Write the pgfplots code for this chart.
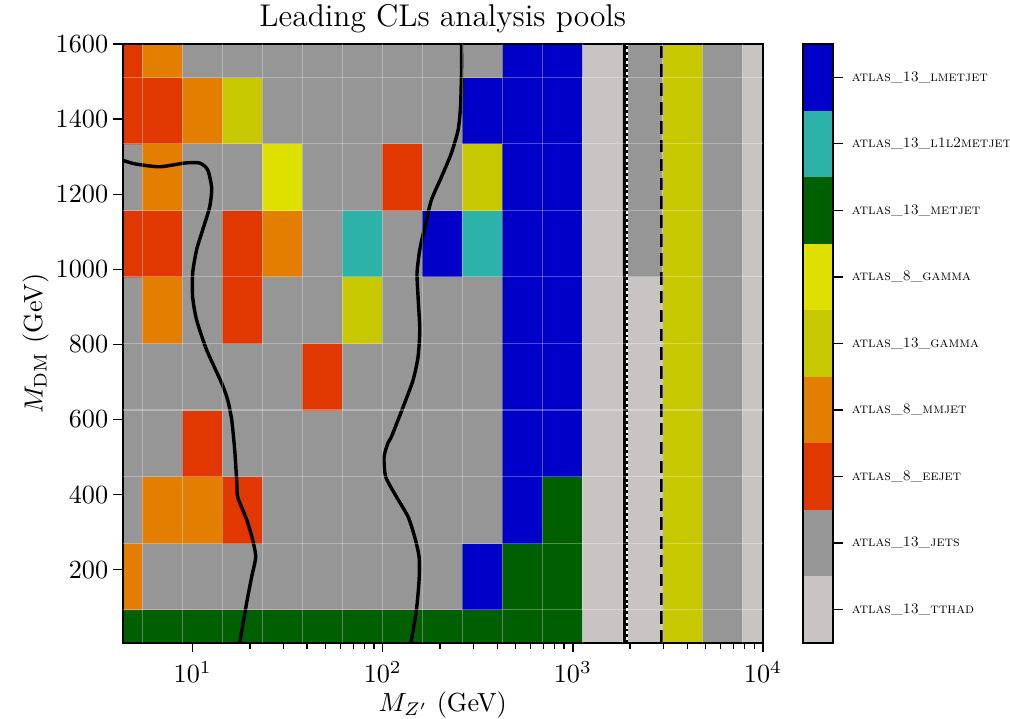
\documentclass[border=0pt]{standalone}
\usepackage{pgfplots}
\pgfplotsset{compat=1.18}
\definecolor{cTT}{RGB}{201,196,196}
\definecolor{cJE}{RGB}{150,150,150}
\definecolor{cEE}{RGB}{224,56,0}
\definecolor{cMM}{RGB}{228,126,0}
\definecolor{cGA}{RGB}{200,200,0}
\definecolor{cGE}{RGB}{224,224,0}
\definecolor{cME}{RGB}{0,96,0}
\definecolor{cLL}{RGB}{44,178,168}
\definecolor{cLM}{RGB}{0,0,200}
\begin{document}
\begin{tikzpicture}
\begin{axis}[
  name=main, at={(0,0)}, anchor=south west,
  scale only axis, width=244.4pt, height=228.6pt,
  xmode=log, xmin=4.2813, xmax=10000, ymin=5, ymax=1600,
  xtick={10,100,1000,10000},
  ytick={200,400,...,1600},
  /pgf/number format/1000 sep={},
  tick align=outside, xtick pos=left, ytick pos=left,
  major tick length=3.6pt, minor tick length=2.2pt,
  tick style={black, line width=0.5pt},
  axis line style={line width=0.7pt},
  yticklabel style={xshift=1.6pt},
  title={Leading CLs analysis pools}, title style={font=\large, yshift=-5.5pt},
  xlabel={$M_{Z'}$ (GeV)}, ylabel={$M_{\mathrm{DM}}$ (GeV)},
  xlabel style={yshift=7pt},
  ylabel style={yshift=-8pt},
  axis on top,
  extra x ticks={5.4556,8.8587,14.384,23.357,37.927,61.585,100,162.38,263.67,428.13,695.19,1128.8,1833.0,2976.4,4832.9,7847.6},
  extra x tick labels={},
  extra x tick style={grid=major, major tick length=0pt, xticklabel={}},
  extra y ticks={93.6,270.8,448,625.3,802.5,979.7,1157,1334.2,1511.4},
  extra y tick labels={},
  extra y tick style={grid=major, major tick length=0pt, yticklabel={}},
  major grid style={white, opacity=0.3, line width=0.4pt},
  colormap={pools}{rgb255=(201,196,196) rgb255=(150,150,150) rgb255=(224,56,0) rgb255=(228,126,0) rgb255=(200,200,0) rgb255=(224,224,0) rgb255=(0,96,0) rgb255=(44,178,168) rgb255=(0,0,200)},
  colormap access=direct,
  point meta min=0, point meta max=8,
]
\addplot[matrix plot*, mesh/cols=17, mesh/rows=10, point meta=explicit] table[meta=c] {
x y c
4.2813 5 6
6.9519 5 6
11.288 5 6
18.330 5 6
29.764 5 6
48.329 5 6
78.476 5 6
127.43 5 6
206.91 5 6
335.98 5 6
545.56 5 6
885.87 5 6
1438.4 5 0
2335.7 5 0
3792.7 5 4
6158.5 5 1
10000 5 0
4.2813 182.2 3
6.9519 182.2 1
11.288 182.2 1
18.330 182.2 1
29.764 182.2 1
48.329 182.2 1
78.476 182.2 1
127.43 182.2 1
206.91 182.2 1
335.98 182.2 8
545.56 182.2 6
885.87 182.2 6
1438.4 182.2 0
2335.7 182.2 0
3792.7 182.2 4
6158.5 182.2 1
10000 182.2 0
4.2813 359.4 1
6.9519 359.4 3
11.288 359.4 3
18.330 359.4 2
29.764 359.4 1
48.329 359.4 1
78.476 359.4 1
127.43 359.4 1
206.91 359.4 1
335.98 359.4 1
545.56 359.4 8
885.87 359.4 6
1438.4 359.4 0
2335.7 359.4 0
3792.7 359.4 4
6158.5 359.4 1
10000 359.4 0
4.2813 536.7 1
6.9519 536.7 1
11.288 536.7 2
18.330 536.7 1
29.764 536.7 1
48.329 536.7 1
78.476 536.7 1
127.43 536.7 1
206.91 536.7 1
335.98 536.7 1
545.56 536.7 8
885.87 536.7 8
1438.4 536.7 0
2335.7 536.7 0
3792.7 536.7 4
6158.5 536.7 1
10000 536.7 0
4.2813 713.9 1
6.9519 713.9 1
11.288 713.9 1
18.330 713.9 1
29.764 713.9 1
48.329 713.9 2
78.476 713.9 1
127.43 713.9 1
206.91 713.9 1
335.98 713.9 1
545.56 713.9 8
885.87 713.9 8
1438.4 713.9 0
2335.7 713.9 0
3792.7 713.9 4
6158.5 713.9 1
10000 713.9 0
4.2813 891.1 1
6.9519 891.1 3
11.288 891.1 1
18.330 891.1 2
29.764 891.1 1
48.329 891.1 1
78.476 891.1 4
127.43 891.1 1
206.91 891.1 1
335.98 891.1 1
545.56 891.1 8
885.87 891.1 8
1438.4 891.1 0
2335.7 891.1 0
3792.7 891.1 4
6158.5 891.1 1
10000 891.1 0
4.2813 1068.3 2
6.9519 1068.3 2
11.288 1068.3 1
18.330 1068.3 2
29.764 1068.3 3
48.329 1068.3 1
78.476 1068.3 7
127.43 1068.3 1
206.91 1068.3 8
335.98 1068.3 7
545.56 1068.3 8
885.87 1068.3 8
1438.4 1068.3 0
2335.7 1068.3 1
3792.7 1068.3 4
6158.5 1068.3 1
10000 1068.3 0
4.2813 1245.6 1
6.9519 1245.6 3
11.288 1245.6 1
18.330 1245.6 1
29.764 1245.6 5
48.329 1245.6 1
78.476 1245.6 1
127.43 1245.6 2
206.91 1245.6 1
335.98 1245.6 4
545.56 1245.6 8
885.87 1245.6 8
1438.4 1245.6 0
2335.7 1245.6 1
3792.7 1245.6 4
6158.5 1245.6 1
10000 1245.6 0
4.2813 1422.8 2
6.9519 1422.8 2
11.288 1422.8 3
18.330 1422.8 4
29.764 1422.8 1
48.329 1422.8 1
78.476 1422.8 1
127.43 1422.8 1
206.91 1422.8 1
335.98 1422.8 8
545.56 1422.8 8
885.87 1422.8 8
1438.4 1422.8 0
2335.7 1422.8 1
3792.7 1422.8 4
6158.5 1422.8 1
10000 1422.8 0
4.2813 1600 2
6.9519 1600 3
11.288 1600 1
18.330 1600 1
29.764 1600 1
48.329 1600 1
78.476 1600 1
127.43 1600 1
206.91 1600 1
335.98 1600 1
545.56 1600 8
885.87 1600 8
1438.4 1600 0
2335.7 1600 1
3792.7 1600 4
6158.5 1600 1
10000 1600 0
};
\addplot[black, line width=1.3pt, smooth, tension=0.4] coordinates {
(4.2,1292) (4.95,1281) (6.70,1273) (9.08,1283) (10.88,1283) (11.99,1265) (12.59,1217) (12.29,1166) (11.29,1105) (10.49,1052) (10.0,990) (10.0,926) (10.49,865) (11.85,785) (14.21,697) (15.29,652) (16.05,599) (16.64,519) (17.04,439) (17.25,394) (19.24,333) (20.69,279) (21.46,234) (20.44,181) (19.24,112) (17.68,5)};
\addplot[black, line width=1.3pt, smooth, tension=0.4] coordinates {
(259.6,1600) (259.6,1523) (256.4,1432) (249.1,1371) (229.9,1310) (203.7,1246) (180.4,1185) (166.4,1113) (156.6,1052) (151.5,990) (153.4,926) (156.6,839) (153.4,767) (144.4,705) (127.9,633) (111.1,554) (106.6,538) (101.6,500) (103.7,447) (118.1,394) (135.9,341) (147.3,287) (155.3,234) (155.3,173) (150.4,93) (141.6,13) (140.4,5)};
\addplot[black, line width=1.2pt] coordinates {(1864,5) (1864,1600)};
\addplot[white, line width=0.9pt] coordinates {(1933,5) (1933,1600)};
\addplot[black, line width=0.9pt, dash pattern=on 1.1pt off 1.1pt] coordinates {(1933,5) (1933,1600)};
\addplot[black, line width=1.2pt, dash pattern=on 4.8pt off 2.4pt] coordinates {(2932,5) (2932,1600)};
\end{axis}
\begin{axis}[
  at={(259.7pt,0)}, anchor=south west,
  scale only axis, width=11.5pt, height=228.6pt,
  xmin=0, xmax=1, ymin=0, ymax=9,
  xtick=\empty,
  ytick={0.5,1.5,...,8.5},
  yticklabels={\textsc{atlas\_13\_tthad},\textsc{atlas\_13\_jets},\textsc{atlas\_8\_eejet},\textsc{atlas\_8\_mmjet},\textsc{atlas\_13\_gamma},\textsc{atlas\_8\_gamma},\textsc{atlas\_13\_metjet},\textsc{atlas\_13\_l1l2metjet},\textsc{atlas\_13\_lmetjet}},
  ytick pos=right, yticklabel pos=right,
  tick align=outside, major tick length=3.6pt,
  tick style={black, line width=0.5pt},
  yticklabel style={font=\fontsize{5.5}{6}\selectfont},
  axis line style={line width=0.8pt},
  axis on top,
]
\addplot[fill=cTT, draw=none] coordinates {(0,0) (1,0) (1,1) (0,1)} -- cycle;
\addplot[fill=cJE, draw=none] coordinates {(0,1) (1,1) (1,2) (0,2)} -- cycle;
\addplot[fill=cEE, draw=none] coordinates {(0,2) (1,2) (1,3) (0,3)} -- cycle;
\addplot[fill=cMM, draw=none] coordinates {(0,3) (1,3) (1,4) (0,4)} -- cycle;
\addplot[fill=cGA, draw=none] coordinates {(0,4) (1,4) (1,5) (0,5)} -- cycle;
\addplot[fill=cGE, draw=none] coordinates {(0,5) (1,5) (1,6) (0,6)} -- cycle;
\addplot[fill=cME, draw=none] coordinates {(0,6) (1,6) (1,7) (0,7)} -- cycle;
\addplot[fill=cLL, draw=none] coordinates {(0,7) (1,7) (1,8) (0,8)} -- cycle;
\addplot[fill=cLM, draw=none] coordinates {(0,8) (1,8) (1,9) (0,9)} -- cycle;
\end{axis}
\pgfresetboundingbox
\path[use as bounding box] (-46.8pt,-29pt) rectangle (338.7pt,245.4pt);
\end{tikzpicture}
\end{document}
